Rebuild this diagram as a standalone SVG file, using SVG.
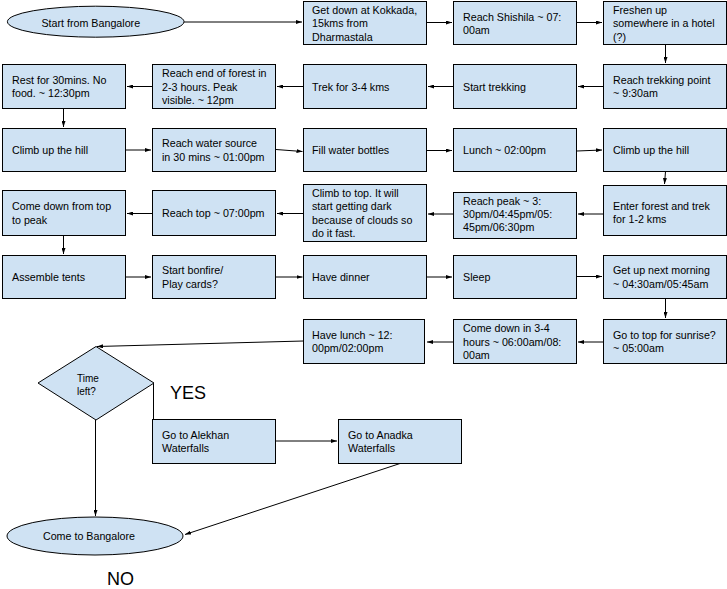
<svg xmlns="http://www.w3.org/2000/svg" width="727" height="589" viewBox="0 0 727 589">
<style>
.b{fill:#cfe2f3;stroke:#000;stroke-width:1}
.t{font-family:"Liberation Sans",Arial,sans-serif;font-size:10.7px;fill:#000}
.d{font-family:"Liberation Sans",Arial,sans-serif;font-size:10px;fill:#000}
.big{font-family:"Liberation Sans",Arial,sans-serif;font-size:18px;fill:#000}
.c{stroke:#000;stroke-width:1;fill:none;marker-end:url(#ah)}
</style>
<defs>
<marker id="ah" markerUnits="userSpaceOnUse" viewBox="0 0 6 4" markerWidth="6" markerHeight="4" refX="6" refY="2" orient="auto"><path d="M0,0 L6,2 L0,4 z" fill="#000"/></marker>
</defs>
<rect width="727" height="589" fill="#fff"/>
<g id="connectors">
<path class="c" d="M184,22 H302"/>
<path class="c" d="M427,22.5 H452"/>
<path class="c" d="M577,22.5 H602"/>
<path class="c" d="M665.5,44.5 V63"/>
<path class="c" d="M603,86.5 H578"/>
<path class="c" d="M453,86.5 H428"/>
<path class="c" d="M303.5,86.5 H277"/>
<path class="c" d="M152,86.5 H127"/>
<path class="c" d="M63.5,108.5 V127"/>
<path class="c" d="M126,150 H151"/>
<path class="c" d="M276,149.5 L302.5,151.5"/>
<path class="c" d="M427,150.5 H452"/>
<path class="c" d="M577,151 L602,150"/>
<path class="c" d="M665.5,171.5 L664.5,184"/>
<path class="c" d="M603,214 H578"/>
<path class="c" d="M453,214 H428"/>
<path class="c" d="M303.5,213.5 H277"/>
<path class="c" d="M152,213.5 H127"/>
<path class="c" d="M63.5,235.5 V254"/>
<path class="c" d="M126,277 H151"/>
<path class="c" d="M276,277 H302.5"/>
<path class="c" d="M427,277 H452"/>
<path class="c" d="M577,276.5 H602"/>
<path class="c" d="M665.5,298.5 V318"/>
<path class="c" d="M603,342 H578"/>
<path class="c" d="M453,342 H427"/>
<path class="c" d="M303.5,341 L97,346.5"/>
<path class="c" d="M153.5,383 V438"/>
<path class="c" d="M276,441 H337"/>
<path class="c" d="M400,463.5 L185,534.5"/>
<path class="c" d="M95.5,420 V516"/>
</g>
<g id="n1"><ellipse class="b" cx="95.7" cy="21.7" rx="88.3" ry="15.5"/><text class="t" x="90.8" y="26.5" text-anchor="middle">Start from Bangalore</text></g>
<g id="n2"><rect class="b" x="303.5" y="1.5" width="123" height="43"/><text class="t" x="312"><tspan x="312" y="14">Get down at Kokkada,</tspan><tspan x="312" y="27.3">15kms from</tspan><tspan x="312" y="40.6">Dharmastala</tspan></text></g>
<g id="n3"><rect class="b" x="453.5" y="1.5" width="123" height="43"/><text class="t"><tspan x="463" y="20.5">Reach Shishila ~ 07:</tspan><tspan x="463" y="33.8">00am</tspan></text></g>
<g id="n4"><rect class="b" x="603.5" y="1.5" width="123" height="43"/><text class="t"><tspan x="613" y="14">Freshen up</tspan><tspan x="613" y="27.3">somewhere in a hotel</tspan><tspan x="613" y="40.6">(?)</tspan></text></g>
<g id="n5"><rect class="b" x="603.5" y="64.5" width="123" height="44"/><text class="t"><tspan x="613" y="84">Reach trekking point</tspan><tspan x="613" y="97.3">~ 9:30am</tspan></text></g>
<g id="n6"><rect class="b" x="453.5" y="64.5" width="123" height="44"/><text class="t" x="463" y="90.5">Start trekking</text></g>
<g id="n7"><rect class="b" x="303.5" y="64.5" width="123" height="44"/><text class="t" x="312" y="90.5">Trek for 3-4 kms</text></g>
<g id="n8"><rect class="b" x="152.5" y="64.5" width="123" height="44"/><text class="t"><tspan x="162" y="77.2">Reach end of forest in</tspan><tspan x="162" y="90.5">2-3 hours. Peak</tspan><tspan x="162" y="103.8">visible. ~ 12pm</tspan></text></g>
<g id="n9"><rect class="b" x="2.5" y="64.5" width="123" height="44"/><text class="t"><tspan x="12" y="84">Rest for 30mins. No</tspan><tspan x="12" y="97.3">food. ~ 12:30pm</tspan></text></g>
<g id="n10"><rect class="b" x="2.5" y="128.5" width="123" height="43"/><text class="t" x="12" y="154">Climb up the hill</text></g>
<g id="n11"><rect class="b" x="152.5" y="128.5" width="123" height="43"/><text class="t"><tspan x="162" y="147.3">Reach water source</tspan><tspan x="162" y="160.6">in 30 mins ~ 01:00pm</tspan></text></g>
<g id="n12"><rect class="b" x="303.5" y="128.5" width="123" height="43"/><text class="t" x="312" y="154">Fill water bottles</text></g>
<g id="n13"><rect class="b" x="453.5" y="128.5" width="123" height="43"/><text class="t" x="463" y="154">Lunch ~ 02:00pm</text></g>
<g id="n14"><rect class="b" x="603.5" y="128.5" width="123" height="43"/><text class="t" x="613" y="154">Climb up the hill</text></g>
<g id="n15"><rect class="b" x="603.5" y="185.5" width="123" height="50"/><text class="t"><tspan x="613" y="210">Enter forest and trek</tspan><tspan x="613" y="223.3">for 1-2 kms</tspan></text></g>
<g id="n16"><rect class="b" x="453.5" y="192.5" width="123" height="46"/><text class="t"><tspan x="463" y="204.5">Reach peak ~ 3:</tspan><tspan x="463" y="217.8">30pm/04:45pm/05:</tspan><tspan x="463" y="231.1">45pm/06:30pm</tspan></text></g>
<g id="n17"><rect class="b" x="303.5" y="184.5" width="123" height="57"/><text class="t"><tspan x="312" y="197">Climb to top. It will</tspan><tspan x="312" y="210.3">start getting dark</tspan><tspan x="312" y="223.6">because of clouds so</tspan><tspan x="312" y="236.9">do it fast.</tspan></text></g>
<g id="n18"><rect class="b" x="152.5" y="190.5" width="123" height="45"/><text class="t" x="162" y="217">Reach top ~ 07:00pm</text></g>
<g id="n19"><rect class="b" x="2.5" y="190.5" width="123" height="45"/><text class="t"><tspan x="12" y="210.4">Come down from top</tspan><tspan x="12" y="223.7">to peak</tspan></text></g>
<g id="n20"><rect class="b" x="2.5" y="255.5" width="123" height="43"/><text class="t" x="12" y="281">Assemble tents</text></g>
<g id="n21"><rect class="b" x="152.5" y="255.5" width="123" height="43"/><text class="t"><tspan x="162" y="274.3">Start bonfire/</tspan><tspan x="162" y="287.6">Play cards?</tspan></text></g>
<g id="n22"><rect class="b" x="303.5" y="255.5" width="123" height="43"/><text class="t" x="312" y="281">Have dinner</text></g>
<g id="n23"><rect class="b" x="453.5" y="255.5" width="123" height="43"/><text class="t" x="463" y="281">Sleep</text></g>
<g id="n24"><rect class="b" x="603.5" y="255.5" width="123" height="43"/><text class="t"><tspan x="613" y="274.3">Get up next morning</tspan><tspan x="613" y="287.6">~ 04:30am/05:45am</tspan></text></g>
<g id="n25"><rect class="b" x="603.5" y="319.5" width="123" height="44"/><text class="t"><tspan x="613" y="338.8">Go to top for sunrise?</tspan><tspan x="613" y="352.1">~ 05:00am</tspan></text></g>
<g id="n26"><rect class="b" x="453.5" y="319.5" width="123" height="44"/><text class="t"><tspan x="463" y="332.2">Come down in 3-4</tspan><tspan x="463" y="345.5">hours ~ 06:00am/08:</tspan><tspan x="463" y="358.8">00am</tspan></text></g>
<g id="n27"><rect class="b" x="303.5" y="319.5" width="121" height="44"/><text class="t"><tspan x="312" y="338.8">Have lunch ~ 12:</tspan><tspan x="312" y="352.1">00pm/02:00pm</tspan></text></g>
<g id="n28"><polygon class="b" points="96,346.5 154,383 96,420 38,383"/><text class="d"><tspan x="77" y="381.5">Time</tspan><tspan x="77" y="394.5">left?</tspan></text></g>
<g id="n29"><rect class="b" x="152.5" y="419.5" width="123" height="44"/><text class="t"><tspan x="162" y="438.5">Go to Alekhan</tspan><tspan x="162" y="451.8">Waterfalls</tspan></text></g>
<g id="n30"><rect class="b" x="338.5" y="419.5" width="123" height="44"/><text class="t"><tspan x="348" y="438.5">Go to Anadka</tspan><tspan x="348" y="451.8">Waterfalls</tspan></text></g>
<g id="n31"><ellipse class="b" cx="95" cy="536" rx="88" ry="19"/><text class="t" x="89" y="540" text-anchor="middle">Come to Bangalore</text></g>
<text class="big" x="170" y="399">YES</text>
<text class="big" x="107" y="585">NO</text>
</svg>
